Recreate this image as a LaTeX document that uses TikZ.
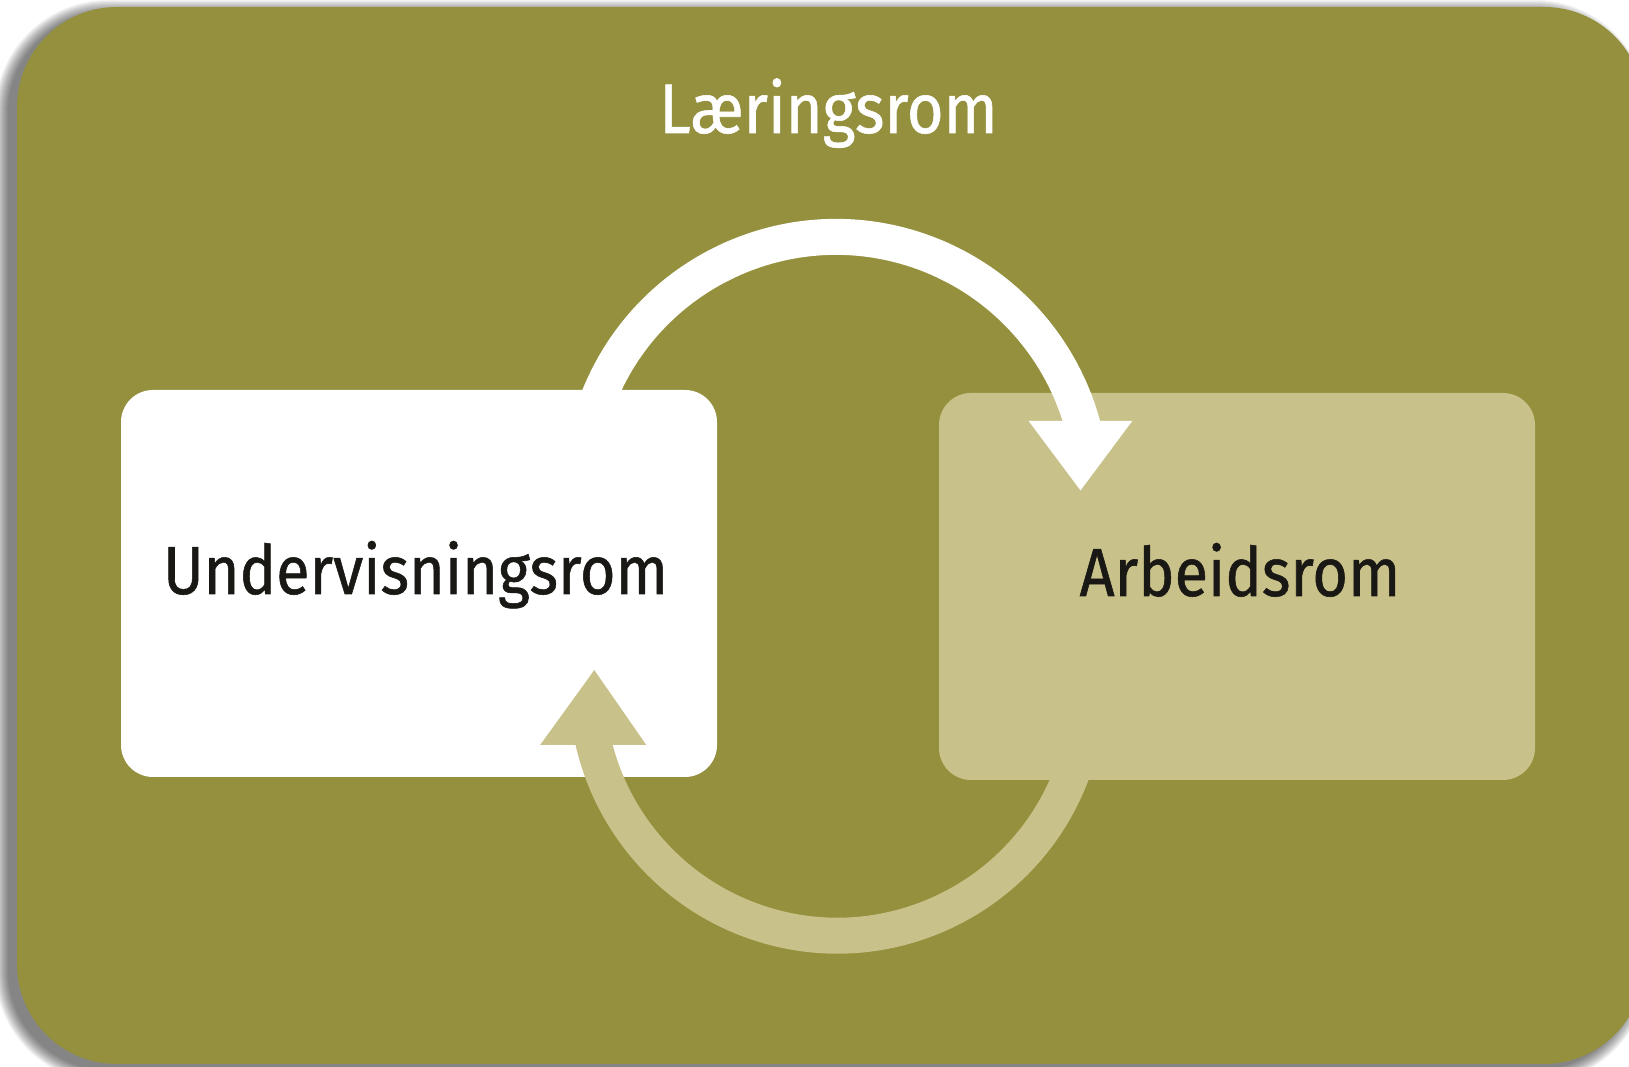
\documentclass[tikz,border=0pt]{standalone}
\usepackage{fontspec}
\setmainfont{Fira Sans}[FakeStretch=0.9, FakeBold=0.8]
\definecolor{bgolive}{RGB}{148,144,61}
\definecolor{lightolive}{RGB}{200,194,138}
\definecolor{textdark}{RGB}{26,24,20}
\tikzset{
  roombox/.style={minimum width=596, minimum height=387, rounded corners=32, inner sep=0, draw=none},
  bigtext/.style={font=\fontsize{68}{80}\selectfont, inner sep=0, anchor=base},
  flowline/.style={line width=36},
}
\begin{document}
\begin{tikzpicture}[x=1pt,y=1pt]
\useasboundingbox (0,0) rectangle (1629,1067);
\fill[white] (0,0) rectangle (1629,1067);
% soft shadow
\foreach \i in {0,...,13}{
  \pgfmathsetmacro{\rr}{100+\i}
  \fill[black, opacity=0.045, rounded corners=\rr] (17-9-\i,3-6-\i) rectangle (1644-9+\i,1060-6+\i);
}
% main panel
\fill[bgolive, rounded corners=100] (17,3) rectangle (1644,1060);
\node[bigtext, white, font=\fontsize{70}{80}\selectfont] (title) at (828.5,934) {Læringsrom};
% boxes
\node[roombox, fill=white] (ubox) at (419,483.5) {};
\node[roombox, fill=lightolive] (abox) at (1237,480.5) {};
% top arrow (white)
\coordinate (tstart) at (597.7,666.9);
\coordinate (tbl) at (1028.5,646.2);
\coordinate (tbr) at (1132.4,646.2);
\coordinate (ttip) at (1080.5,576.6);
\draw[flowline, white] (tstart) arc[start angle=158.8, end angle=14.15, radius=255.6];
\fill[white] (tbl) -- (tbr) -- (ttip) -- cycle;
% bottom arrow (light)
\coordinate (bstart) at (1073,297);
\coordinate (bbl) at (540.2,322.1);
\coordinate (bbr) at (646.2,322.1);
\coordinate (btip) at (594.3,396.9);
\draw[flowline, lightolive] (bstart) arc[start angle=-19.8, end angle=-168.36, radius=250.5];
\fill[lightolive] (bbl) -- (bbr) -- (btip) -- cycle;
% labels
\node[bigtext, textdark] (ulabel) at (415.6,473) {Undervisningsrom};
\node[bigtext, textdark] (alabel) at (1240,471) {Arbeidsrom};
\end{tikzpicture}
\end{document}
